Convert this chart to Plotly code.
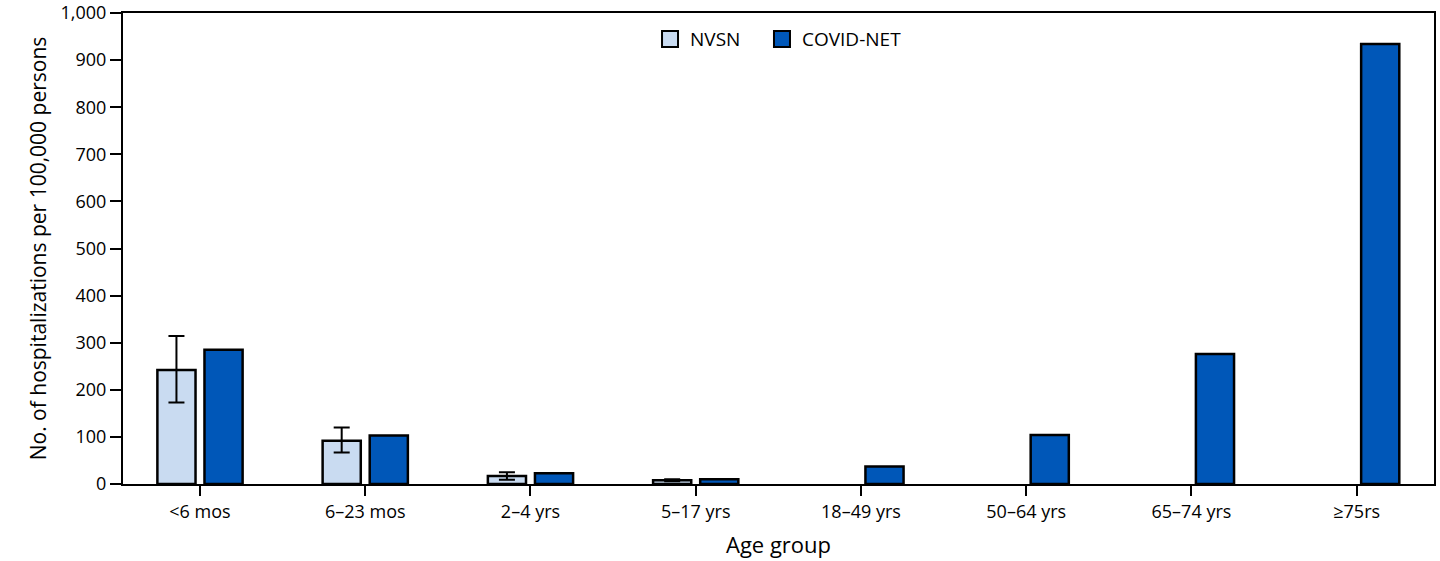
import plotly.graph_objects as go

categories = ["<6 mos", "6–23 mos", "2–4 yrs", "5–17 yrs", "18–49 yrs", "50–64 yrs", "65–74 yrs", "≥75rs"]
nvsn = [242, 92, 17, 8, None, None, None, None]
nvsn_upper = [314, 120, 25, 10, None, None, None, None]
nvsn_lower = [173, 67, 9, 6, None, None, None, None]
covid_net = [285, 103, 23, 10, 37, 104, 276, 934]
y_ticks = [0, 100, 200, 300, 400, 500, 600, 700, 800, 900, 1000]
y_tick_text = ["0", "100", "200", "300", "400", "500", "600", "700", "800", "900", "1,000"]

NVSN_COLOR = "#c9dbf1"
COVID_COLOR = "#0057b8"
FONT = "Open Sans"

err_plus = [u - v if v is not None else None for u, v in zip(nvsn_upper, nvsn)]
err_minus = [v - l if v is not None else None for l, v in zip(nvsn_lower, nvsn)]

fig = go.Figure()
fig.add_trace(go.Bar(
    x=categories, y=nvsn, name="NVSN", showlegend=False,
    marker=dict(color=NVSN_COLOR, line=dict(color="black", width=2.5)),
    error_y=dict(type="data", symmetric=False, array=err_plus, arrayminus=err_minus,
                 color="black", thickness=2, width=8),
))
fig.add_trace(go.Bar(
    x=categories, y=covid_net, name="COVID-NET", showlegend=False,
    marker=dict(color=COVID_COLOR, line=dict(color="black", width=2.5)),
))
# legend entries (one legend box each, to control spacing)
for name, col, lg in [("NVSN", NVSN_COLOR, "legend"), ("COVID-NET", COVID_COLOR, "legend2")]:
    fig.add_trace(go.Scatter(
        x=[None], y=[None], mode="markers", name=name, legend=lg,
        marker=dict(symbol="square", size=17, color=col, line=dict(color="black", width=2)),
    ))

legend_common = dict(orientation="h", xanchor="left", y=0.985, yanchor="top",
                     font=dict(size=19), itemwidth=30, bgcolor="rgba(0,0,0,0)")

fig.update_layout(
    width=1440, height=561,
    margin=dict(l=123, r=6, t=13, b=77, autoexpand=False),
    paper_bgcolor="white", plot_bgcolor="white",
    barmode="group", bargap=0.43, bargroupgap=0.19,
    font=dict(family=FONT, size=16, color="black"),
    legend=dict(x=0.402, **legend_common),
    legend2=dict(x=0.4874, **legend_common),
    xaxis=dict(
        range=[-0.466, 7.468], showline=True, linecolor="black", linewidth=2, mirror=True,
        ticks="outside", ticklen=10, tickwidth=2, tickcolor="black", automargin=False,
        showgrid=False, tickfont=dict(size=18),
        title=dict(text="Age group", font=dict(size=22), standoff=16),
    ),
    yaxis=dict(
        range=[0, 1000], showline=True, linecolor="black", linewidth=2, mirror=True,
        ticks="outside", ticklen=11, tickwidth=2, tickcolor="black", automargin=False,
        tickvals=y_ticks, ticktext=y_tick_text, showgrid=False, zeroline=False,
        tickfont=dict(size=18),
        title=dict(text="No. of hospitalizations per 100,000 persons", font=dict(size=21), standoff=8),
    ),
)

post = (
    "document.documentElement.style.margin='0';"
    "document.documentElement.style.overflow='hidden';"
    "document.body.style.margin='0';document.body.style.padding='0';"
    "document.body.style.overflow='hidden';"
)
fig.write_html("out.html", post_script=post, config={"displayModeBar": False})
